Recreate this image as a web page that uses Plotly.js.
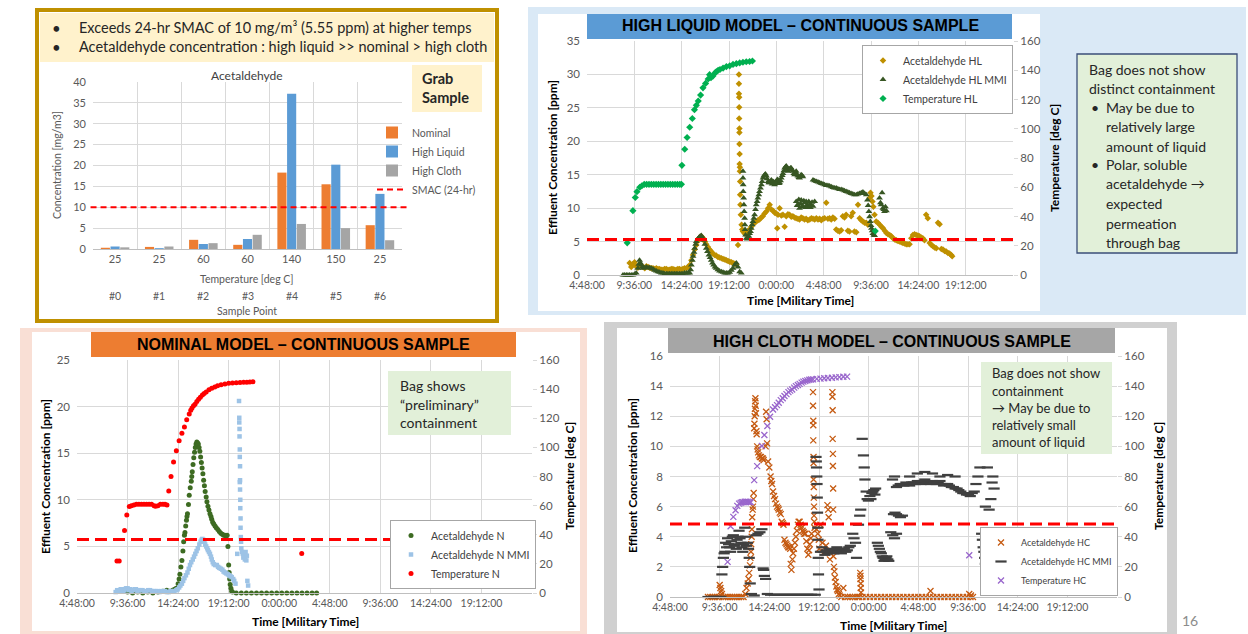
<!DOCTYPE html>
<html><head><meta charset="utf-8">
<script src="https://cdn.plot.ly/plotly-3.0.1.min.js"></script>
<style>html,body{margin:0;padding:0;background:#fff;}#chart{width:1248px;height:634px;}</style>
</head><body><div id="chart"></div>
<script>
// ---------- Grab sample bar chart ----------
const grabCategories = ['#0','#1','#2','#3','#4','#5','#6'];
const grabTemps = ['25','25','60','60','140','150','25'];
const grabNominal = [0.3,0.5,2.2,1.0,18.3,15.5,5.7];
const grabHighLiquid = [0.6,0.2,1.2,2.4,37.2,20.2,13.2];
const grabHighCloth = [0.4,0.6,1.4,3.4,6.0,5.0,2.1];
const smacGrab = 10;

// ---------- time axis (Excel day fractions) ----------
const timeTicks = [0.2,0.4,0.6,0.8,1.0,1.2,1.4,1.6,1.8,2.0];
const timeLabels = ['4:48:00','9:36:00','14:24:00','19:12:00','0:00:00','4:48:00','9:36:00','14:24:00','19:12:00',''];
const smacHL = 5.3, smacN = 5.75, smacHC = 4.85;

// ---------- High liquid continuous [time, value] ----------
const hlTemp = [[0.370,22],[0.394,44],[0.404,53],[0.411,57],[0.423,60],[0.432,61],[0.442,62],[0.452,62],[0.462,62],[0.472,62],[0.482,62],[0.492,62],[0.502,62],[0.512,62],[0.522,62],[0.532,62],[0.542,62],[0.552,62],[0.562,62],[0.572,62],[0.582,62],[0.592,62],[0.599,62],[0.601,75],[0.613,86],[0.623,94],[0.634,101],[0.645,107],[0.654,113],[0.662,116],[0.670,119],[0.680,123],[0.690,128],[0.701,131],[0.712,134],[0.718,137],[0.724,135],[0.732,136],[0.740,138],[0.746,139],[0.754,140],[0.762,140.5],[0.775,141.5],[0.789,142.5],[0.803,143],[0.817,144],[0.831,144.5],[0.845,145],[0.859,145.5],[0.873,145.8],[0.887,146],[0.899,146.3],[1.418,30]];
const hlAcet = [[0.380,1.8],[0.387,1.2],[0.394,1.6],[0.401,1.9],[0.408,1.3],[0.415,1.1],[0.422,1.5],[0.430,1.3],[0.437,1.2],[0.444,1.0],[0.451,1.3],[0.458,1.2],[0.465,1.1],[0.472,1.0],[0.479,1.0],[0.486,0.9],[0.493,1.0],[0.500,0.9],[0.507,0.9],[0.514,0.8],[0.521,0.8],[0.528,0.9],[0.535,0.9],[0.542,0.8],[0.549,0.8],[0.556,0.9],[0.563,0.9],[0.570,0.8],[0.577,0.8],[0.584,0.9],[0.591,0.9],[0.598,0.8],[0.605,0.9],[0.612,1.0],[0.620,1.0],[0.627,1.2],[0.634,1.5],[0.641,2.2],[0.648,3.0],[0.655,3.8],[0.662,4.5],[0.668,5.1],[0.673,5.5],[0.678,5.7],[0.683,5.8],[0.688,5.6],[0.693,5.4],[0.698,5.0],[0.704,4.6],[0.711,4.2],[0.718,3.8],[0.725,3.5],[0.732,3.2],[0.739,3.0],[0.746,2.9],[0.753,2.7],[0.760,2.6],[0.768,2.5],[0.775,2.4],[0.782,2.3],[0.789,2.2],[0.796,2.1],[0.803,2.0],[0.810,1.9],[0.817,1.8],[0.824,1.7],[0.831,1.6],[0.838,4.5],
[0.842,30.0],[0.842,28.6],[0.842,27.1],[0.843,26.6],[0.843,25.1],[0.843,23.4],[0.844,21.9],[0.844,21.3],[0.844,19.6],[0.845,18.1],[0.845,16.6],[0.846,16.1],[0.846,15.5],[0.847,14.0],[0.847,12.0],[0.848,10.5],[0.850,9.0],[0.853,7.5],[0.856,6.8],[0.859,6.5],
[0.866,6.2],[0.873,6.3],[0.880,6.6],[0.887,6.8],[0.894,7.2],[0.901,7.5],[0.908,7.8],[0.915,8.0],[0.922,8.2],[0.929,8.3],[0.936,8.6],[0.943,8.8],[0.950,9.2],[0.958,9.5],[0.965,10.0],[0.972,10.5],[0.979,9.8],[0.986,9.6],[0.993,9.3],[1.000,9.2],[1.004,7.0],[1.007,9.0],[1.014,10.0],[1.021,8.9],[1.028,9.0],[1.035,7.2],[1.042,8.8],[1.049,9.1],[1.056,9.0],[1.063,8.7],[1.070,8.8],[1.077,8.6],[1.084,8.5],[1.091,8.4],[1.098,8.3],[1.105,8.6],[1.112,8.5],[1.119,8.3],[1.126,8.4],[1.133,8.2],[1.141,8.3],[1.148,8.5],[1.155,8.4],[1.162,8.3],[1.169,8.5],[1.176,8.3],[1.183,8.4],[1.190,8.2],[1.197,8.4],[1.204,8.5],[1.211,10.8],[1.218,8.4],[1.225,8.5],[1.232,8.3],[1.239,8.6],[1.246,8.4],[1.253,6.8],[1.260,6.6],[1.267,6.5],[1.274,6.7],[1.281,8.8],[1.288,8.6],[1.295,9.0],[1.302,6.6],[1.309,6.5],[1.316,8.8],[1.323,9.3],[1.330,6.5],[1.338,6.4],[1.345,10.5],[1.352,8.5],[1.359,8.2],[1.366,8.0],[1.373,7.8],[1.380,7.8],[1.387,7.5],[1.394,11.5],[1.398,12.3],[1.402,11.8],[1.406,11.0],[1.410,10.2],[1.415,9.0],[1.422,8.0],[1.429,7.8],[1.437,7.5],[1.444,7.2],[1.451,7.0],[1.458,6.6],[1.465,6.3],[1.472,6.1],[1.479,6.0],[1.486,5.8],[1.493,5.5],[1.500,5.3],[1.507,5.2],[1.514,5.1],[1.521,5.0],[1.528,4.9],[1.535,4.8],[1.542,4.7],[1.549,4.6],[1.556,4.6],[1.563,4.6],[1.570,5.5],[1.577,6.0],[1.584,6.1],[1.591,6.0],[1.598,5.9],[1.605,5.8],[1.612,5.6],[1.619,5.5],[1.626,5.2],[1.633,9.0],[1.640,8.5],[1.648,4.8],[1.655,4.5],[1.662,4.3],[1.669,4.1],[1.676,4.0],[1.683,7.8],[1.690,7.6],[1.697,3.9],[1.704,3.8],[1.711,3.6],[1.718,3.5],[1.725,3.3],[1.732,3.2],[1.739,3.0],[1.743,2.8]];
const hlAcetMMI = [[0.352,0],[0.359,0],[0.366,0],[0.373,0],[0.380,0],[0.387,0],[0.394,0],[0.401,0.1],[0.408,0.3],[0.415,1.0],[0.419,1.6],[0.422,2.2],[0.426,1.8],[0.430,1.5],[0.434,1.2],[0.437,1.0],[0.444,1.1],[0.451,1.2],[0.458,1.1],[0.465,1.1],[0.472,1.0],[0.479,0.9],[0.486,0.7],[0.493,0.6],[0.500,0.5],[0.507,0.4],[0.514,0.3],[0.521,0.3],[0.528,0.2],[0.535,0.2],[0.542,0.2],[0.549,0.2],[0.556,0.2],[0.563,0.2],[0.570,0.2],[0.577,0.2],[0.584,0.2],[0.591,0.2],[0.598,0.2],[0.605,0.2],[0.612,0.3],[0.620,0.3],[0.627,0.3],[0.634,0.3],[0.638,0.8],[0.641,1.5],[0.645,2.2],[0.648,2.8],[0.652,3.4],[0.655,4.0],[0.659,4.6],[0.662,5.0],[0.668,5.4],[0.673,5.6],[0.678,5.8],[0.683,5.9],[0.688,5.6],[0.693,5.2],[0.698,4.6],[0.704,4.0],[0.709,3.5],[0.715,3.0],[0.720,2.6],[0.725,2.2],[0.730,1.8],[0.735,1.5],[0.741,1.2],[0.746,1.0],[0.753,0.8],[0.760,0.6],[0.768,0.5],[0.775,0.4],[0.782,0.3],[0.789,0.3],[0.796,0.3],[0.803,0.4],[0.810,0.7],[0.817,1.0],[0.824,1.5],[0.831,1.8],[0.838,1.2],[0.845,0.5],[0.852,0.3],
[0.859,15.5],[0.859,14.5],[0.860,13.5],[0.860,12.5],[0.862,11.5],[0.863,10.5],[0.864,9.5],[0.866,8.5],[0.867,7.5],[0.868,6.8],[0.870,6.0],[0.873,5.5],[0.877,5.4],[0.880,5.6],[0.884,5.8],[0.887,6.2],[0.891,6.5],[0.894,7.0],[0.898,7.5],[0.901,8.0],[0.905,8.5],[0.908,9.0],[0.912,9.8],[0.915,10.5],[0.919,11.0],[0.922,11.5],[0.926,12.0],[0.929,12.5],[0.933,13.0],[0.937,13.5],[0.940,14.0],[0.944,14.5],[0.947,14.8],[0.951,15.0],[0.954,15.1],[0.958,14.8],[0.961,14.4],[0.965,14.0],[0.968,13.8],[0.972,13.8],[0.975,14.0],[0.979,14.2],[0.982,13.6],[0.986,14.0],[0.989,13.9],[0.993,13.5],[0.996,13.8],[1.000,14.0],[1.004,14.3],[1.007,14.2],[1.011,13.7],[1.014,13.8],[1.018,14.1],[1.021,14.5],[1.025,14.9],[1.028,15.2],[1.032,15.6],[1.035,16.0],[1.039,16.2],[1.042,16.3],[1.046,15.8],[1.049,15.5],[1.053,15.9],[1.056,15.8],[1.060,16.0],[1.063,16.0],[1.067,15.7],[1.070,15.5],[1.074,15.2],[1.077,15.0],[1.081,15.3],[1.084,15.5],[1.088,15.0],[1.091,14.8],[1.095,14.6],[1.098,14.5],[1.102,14.8],[1.105,15.0],[1.109,14.9],[1.112,14.7],
[1.084,11.0],[1.088,10.4],[1.091,10.5],[1.095,11.3],[1.098,10.0],[1.102,10.7],[1.105,11.2],[1.109,10.2],[1.112,10.3],[1.116,11.1],[1.119,10.8],[1.123,10.1],[1.126,11.0],[1.130,10.5],[1.133,10.2],[1.137,11.0],[1.141,10.6],[1.144,10.1],[1.148,10.4],[1.151,10.9],[1.155,10.3],[1.162,11.0],
[1.155,14.2],[1.162,14.1],[1.169,14.0],[1.176,13.9],[1.183,13.8],[1.190,13.7],[1.197,13.6],[1.204,13.5],[1.211,13.4],[1.218,13.4],[1.225,13.3],[1.232,13.2],[1.239,13.1],[1.246,13.0],[1.253,13.0],[1.260,12.9],[1.267,12.8],[1.274,12.8],[1.281,12.7],[1.288,12.6],[1.295,12.5],[1.302,12.4],[1.309,12.3],[1.316,12.2],[1.323,12.1],[1.330,12.0],[1.338,12.0],[1.345,12.1],[1.352,12.2],[1.359,12.3],[1.366,12.4],[1.373,12.2],[1.380,12.0],[1.385,11.2],[1.388,10.4],[1.391,9.5],[1.394,8.7],[1.397,8.0],[1.400,7.4],[1.402,7.0],[1.405,6.6],[1.408,6.2],[1.412,6.0],[1.415,5.9],[1.436,11.5],[1.440,10.8],[1.443,10.5],[1.447,12.3],[1.450,10.0],[1.454,9.8],[1.457,9.5],[1.461,10.2],[1.465,9.6]];

// ---------- Nominal continuous [time, value] ----------
const nTemp = [[0.358,22],[0.367,22],[0.388,43],[0.397,53.5],[0.407,59.4],[0.415,60],[0.425,60.5],[0.435,61],[0.445,61],[0.455,61],[0.465,61],[0.475,61],[0.485,61],[0.495,61],[0.505,60],[0.511,59.5],[0.520,60],[0.530,61],[0.540,61],[0.548,61],[0.556,60.5],[0.563,70],[0.572,80],[0.582,90],[0.593,97.6],[0.604,104.5],[0.615,109.7],[0.625,114],[0.634,119],[0.644,123],[0.650,125.5],[0.655,127],[0.661,128.5],[0.667,129.6],[0.674,131.5],[0.681,133],[0.688,134.5],[0.696,136],[0.703,137],[0.711,138],[0.722,139.5],[0.733,140.6],[0.745,141.5],[0.756,142.4],[0.770,143],[0.785,143.5],[0.800,144],[0.815,144.2],[0.830,144.4],[0.845,144.6],[0.859,144.7],[0.872,144.8],[0.884,144.9],[0.896,145],[1.089,27.2]];
const nAcet = [[0.40,0.1],[0.42,0],[0.44,0.1],[0.46,0],[0.48,0.1],[0.50,0],[0.52,0.1],[0.54,0.2],[0.555,0.3],[0.565,0.2],[0.578,0.3],[0.586,0.4],[0.593,0.5],[0.600,1.0],[0.604,1.5],[0.607,2.0],[0.611,2.8],[0.615,3.5],[0.619,4.5],[0.622,5.5],[0.625,6.2],[0.627,6.5],[0.630,7.2],[0.633,7.8],[0.635,8.2],[0.637,8.5],[0.641,9.5],[0.644,10.5],[0.648,11.3],[0.652,12.0],[0.654,12.5],[0.656,13.0],[0.659,13.8],[0.662,14.5],[0.665,15.1],[0.668,15.6],[0.671,16.0],[0.674,16.2],[0.677,16.1],[0.680,16.0],[0.683,15.6],[0.686,15.2],[0.689,14.6],[0.692,14.0],[0.695,13.4],[0.698,12.8],[0.701,12.1],[0.704,11.5],[0.707,10.9],[0.711,10.3],[0.714,9.8],[0.718,9.3],[0.722,8.9],[0.726,8.5],[0.730,8.2],[0.733,7.9],[0.737,7.6],[0.741,7.4],[0.746,7.2],[0.751,7.0],[0.757,6.8],[0.763,6.6],[0.769,6.4],[0.775,6.3],[0.780,6.2],[0.785,6.2],[0.790,6.1],[0.794,6.2],[0.797,5.0],[0.800,3.0],[0.802,2.2],[0.804,1.5],[0.806,0.9],[0.809,0.5],[0.812,0.2],[0.815,0.1],[0.83,0],[0.85,0],[0.87,0],[0.89,0],[0.91,0],[0.93,0],[0.95,0],[0.97,0],[0.99,0],[1.01,0],[1.03,0],[1.05,0],[1.07,0],[1.09,0],[1.11,0],[1.13,0],[1.148,0]];
const nAcetMMI = [[0.353,0.1],[0.359,0.3],[0.367,0.2],[0.373,0.4],[0.378,0.4],[0.383,0.2],[0.388,0.3],[0.394,0.5],[0.400,0.5],[0.405,0.3],[0.410,0.4],[0.416,0.2],[0.422,0.3],[0.428,0.4],[0.433,0.4],[0.439,0.2],[0.444,0.3],[0.452,0.3],[0.459,0.3],[0.467,0.2],[0.474,0.2],[0.482,0.3],[0.489,0.3],[0.496,0.2],[0.504,0.2],[0.511,0.2],[0.519,0.2],[0.526,0.1],[0.533,0.2],[0.541,0.2],[0.548,0.2],[0.556,0.1],[0.563,0.1],[0.570,0.2],[0.578,0.2],[0.585,0.2],[0.593,0.3],[0.598,0.4],[0.604,0.6],[0.609,0.8],[0.615,1.0],[0.620,1.3],[0.625,1.6],[0.631,1.9],[0.637,2.2],[0.642,2.6],[0.647,3.0],[0.652,3.3],[0.658,3.6],[0.663,3.9],[0.668,4.2],[0.673,4.5],[0.678,4.8],[0.684,5.2],[0.689,5.5],[0.693,5.7],[0.696,5.8],[0.700,5.7],[0.704,5.5],[0.707,5.2],[0.711,5.0],[0.715,4.8],[0.718,4.6],[0.722,4.4],[0.726,4.2],[0.730,3.9],[0.733,3.6],[0.737,3.3],[0.741,3.1],[0.747,3.0],[0.753,3.0],[0.758,2.8],[0.763,2.7],[0.769,2.6],[0.775,2.5],[0.780,2.3],[0.785,2.2],[0.791,2.1],[0.797,2.0],[0.802,1.9],[0.807,1.8],[0.812,1.7],[0.818,1.5],[0.822,1.3],[0.827,1.0],[0.834,4.2],
[0.841,20.6],[0.842,18.8],[0.842,18.3],[0.843,17.6],[0.843,16.8],[0.844,15.4],[0.844,14.6],[0.845,13.6],[0.845,12.1],[0.844,11.9],[0.845,11.1],[0.846,10.0],[0.846,9.1],[0.847,8.0],[0.847,7.0],[0.848,6.0],[0.849,5.5],[0.850,4.8],[0.853,4.4],[0.856,4.2],[0.858,3.8],[0.861,4.0],[0.864,3.6],[0.867,4.4],[0.870,3.5],[0.872,4.0],[0.874,1.3],[0.877,0.8]];

// ---------- High cloth continuous [time, value] ----------
const hcTemp = [[0.432,23.3],[0.444,47],[0.455,53.2],[0.464,57.6],[0.471,60.5],[0.478,62],[0.484,62.5],[0.489,62.9],[0.495,63],[0.501,63.2],[0.507,63.2],[0.513,63.2],[0.519,63],[0.525,62.9],[0.539,77.6],[0.551,86.9],[0.570,100.2],[0.580,107.5],[0.592,113.5],[0.603,119.7],[0.615,124.5],[0.623,126],[0.631,127.4],[0.638,129],[0.646,130.7],[0.654,132],[0.661,133.5],[0.669,134.7],[0.677,136],[0.684,137],[0.692,137.8],[0.700,139],[0.707,140],[0.715,140.7],[0.722,141.5],[0.730,142.3],[0.737,143],[0.745,143.4],[0.753,143.8],[0.761,144.2],[0.768,144.4],[0.776,144.5],[0.791,144.8],[0.806,145],[0.821,145.2],[0.836,145.4],[0.852,145.6],[0.867,145.8],[0.882,146],[0.898,146.2],[0.913,146.3],[1.405,27.7]];
const hcAcet = [[0.353,0],[0.362,0],[0.371,0],[0.380,0],[0.389,0],[0.398,0],[0.400,0.8],[0.403,0.6],[0.406,0.4],[0.409,0.2],[0.415,0],[0.424,0],[0.433,0],[0.442,0],[0.451,0],[0.460,0],[0.469,0],[0.478,0],[0.487,0],[0.496,0],[0.503,0.2],[0.508,0.6],[0.513,0.9],[0.516,1.2],[0.519,1.6],[0.522,2.1],[0.524,2.6],[0.526,3.0],[0.527,3.5],[0.529,4.0],[0.530,4.5],[0.531,5.3],[0.533,5.8],[0.534,6.0],[0.536,6.5],[0.537,6.9],
[0.539,11.2],[0.540,11.5],[0.541,12.0],[0.542,12.5],[0.543,13.0],[0.544,13.2],[0.545,12.7],[0.546,12.2],[0.548,11.0],[0.549,10.8],[0.551,10.0],[0.553,9.8],[0.555,9.6],[0.558,9.4],[0.562,9.3],[0.566,9.3],[0.570,9.2],[0.574,9.2],[0.577,9.1],[0.585,10.0],[0.587,12.3],[0.589,11.8],[0.591,10.2],[0.595,9.0],[0.600,8.6],[0.605,8.0],[0.608,7.7],[0.611,7.5],[0.615,7.0],[0.619,6.7],[0.623,6.5],[0.627,6.2],[0.631,6.0],[0.635,5.9],[0.638,5.8],[0.642,5.6],[0.646,5.5],[0.650,5.0],[0.654,4.9],[0.657,4.8],[0.661,3.8],[0.665,3.6],[0.669,3.5],[0.673,3.4],[0.676,3.3],[0.680,3.3],[0.684,3.2],[0.686,2.2],[0.689,1.8],[0.693,2.5],[0.696,2.9],[0.699,3.2],[0.703,3.6],[0.707,4.0],[0.711,4.4],[0.715,4.8],[0.718,5.0],[0.722,5.0],[0.726,4.8],[0.730,4.6],[0.734,4.4],[0.738,4.3],[0.741,4.2],[0.745,4.2],[0.749,3.7],[0.753,3.2],[0.757,2.8],[0.760,3.1],[0.763,3.5],[0.767,3.9],[0.770,4.2],
[0.776,13.6],[0.776,12.7],[0.777,11.7],[0.777,11.4],[0.777,10.4],[0.778,9.3],[0.778,8.9],[0.778,7.8],[0.779,7.3],[0.779,6.6],[0.780,6.0],[0.780,5.4],[0.781,5.0],[0.782,4.6],[0.790,4.5],[0.795,4.2],[0.799,3.8],[0.801,3.2],[0.806,4.8],[0.814,3.6],[0.822,3.0],[0.828,3.4],[0.834,6.1],[0.837,5.8],[0.839,5.3],[0.842,3.0],[0.844,2.5],
[0.854,13.6],[0.854,13.3],[0.855,12.4],[0.855,10.5],[0.856,9.5],[0.856,8.7],[0.857,7.2],[0.857,5.8],[0.858,2.7],[0.860,2.0],[0.862,1.7],[0.864,1.3],[0.867,1.0],[0.870,0.7],[0.873,0.5],[0.876,0.4],[0.880,0.2],[0.883,0.1],[0.890,0],[0.898,0.6],[0.905,0],[0.915,0],[0.925,0],[0.935,0],[0.945,0],[0.955,0],[0.962,0],
[0.966,1.6],[0.967,1.4],[0.967,1.2],[0.968,0.9],[0.968,0.6],[0.969,0.3],[0.975,0],[0.990,0],[1.005,0],[1.020,0],[1.035,0],[1.050,0],[1.065,0],[1.080,0],[1.095,0],[1.110,0],[1.125,0],[1.140,0],[1.155,0],[1.170,0],[1.185,0],[1.200,0],[1.215,0],[1.230,0],[1.245,0],[1.249,0.4],[1.260,0],[1.275,0],[1.290,0],[1.305,0],[1.320,0],[1.335,0],[1.350,0],[1.365,0],[1.380,0],[1.395,0],[1.405,0.2],[1.410,0],[1.412,0.1],[1.420,0]];
const hcAcetMMI = [[0.353,0],[0.362,0],[0.371,0],[0.380,0],[0.389,0],[0.398,0],[0.405,0],[0.409,1.5],[0.412,2.0],[0.415,2.6],[0.418,2.9],[0.421,3.0],[0.424,3.6],[0.428,3.3],[0.432,3.9],[0.436,3.5],[0.440,3.3],[0.444,3.0],[0.447,3.7],[0.451,4.0],[0.455,4.1],[0.459,3.4],[0.463,3.5],[0.467,3.2],[0.470,3.8],[0.474,4.0],[0.478,4.4],[0.482,3.9],[0.486,3.6],[0.490,3.3],[0.493,3.0],[0.497,3.5],[0.501,4.6],[0.505,4.0],[0.508,3.4],[0.512,3.6],[0.516,3.2],[0.519,2.6],[0.521,2.0],[0.523,0.9],[0.528,0.2],[0.539,0.1],[0.547,4.1],[0.554,4.2],[0.562,4.3],[0.570,4.5],[0.575,1.9],[0.577,1.8],[0.580,1.4],[0.585,1.2],[0.592,0.2],[0.605,0.15],[0.620,0.15],[0.635,0.15],[0.650,0.15],[0.665,0.15],[0.680,0.15],[0.695,0.15],[0.710,0.15],[0.725,0.15],[0.740,0.15],[0.755,0.15],[0.770,0.15],[0.785,0.15],[0.800,0.5],
[0.788,9.3],[0.789,9.0],[0.790,8.6],[0.791,8.0],[0.792,7.5],[0.793,6.6],[0.794,5.6],[0.795,4.6],[0.796,3.8],[0.797,2.6],[0.798,1.5],
[0.806,3.0],[0.812,3.3],[0.818,3.0],[0.824,2.8],[0.830,3.1],[0.836,2.9],[0.842,3.2],[0.848,3.0],[0.854,3.1],[0.860,2.9],[0.866,3.1],[0.872,3.3],[0.878,3.0],[0.884,3.2],[0.890,2.9],[0.896,3.1],[0.902,3.2],[0.908,3.0],[0.914,3.1],[0.920,3.3],[0.926,3.4],
[0.936,4.2],[0.941,3.9],[0.947,3.6],[0.951,2.6],[0.959,4.8],[0.964,5.4],[0.968,5.8],[0.974,10.5],[0.979,9.4],[0.982,8.6],[0.985,7.8],[0.990,7.0],[0.994,6.5],[0.999,6.4],[1.005,6.7],[1.009,6.5],[1.013,6.9],[1.017,7.0],[1.021,7.1],[1.025,6.8],[1.028,7.2],
[1.035,3.6],[1.039,3.4],[1.043,3.2],[1.047,3.0],[1.051,2.9],[1.055,2.7],[1.058,2.6],[1.062,2.4],[1.066,2.5],[1.070,2.6],[1.073,2.7],[1.077,2.5],[1.081,2.4],
[1.089,4.3],[1.097,4.1],[1.104,3.9],[1.112,4.2],[1.100,5.5],[1.106,5.6],[1.112,5.5],[1.120,5.4],[1.128,5.3],[1.136,5.4],
[1.096,7.8],[1.104,8.0],[1.112,7.3],[1.119,7.4],[1.127,7.5],[1.134,7.5],[1.142,7.4],[1.150,7.6],[1.157,7.5],[1.165,7.4],[1.173,7.6],[1.180,7.6],[1.188,7.5],[1.196,7.7],[1.203,7.6],[1.211,7.5],[1.219,7.7],[1.226,7.8],[1.234,7.6],[1.241,7.6],[1.249,7.5],[1.257,7.7],[1.264,7.6],[1.272,7.5],[1.280,7.6],[1.287,7.7],[1.295,7.5],[1.302,7.4],[1.310,7.5],[1.318,7.5],[1.325,7.4],[1.333,7.3],[1.341,7.3],[1.348,7.2],[1.356,7.2],[1.363,7.1],[1.371,7.0],[1.379,6.9],[1.386,6.9],[1.394,6.8],[1.402,6.8],[1.409,6.7],[1.417,6.9],[1.425,7.0],
[1.165,8.0],[1.196,8.2],[1.226,8.3],[1.257,8.2],[1.287,8.0],[1.318,8.1],[1.348,8.0],
[1.432,7.5],[1.440,8.0],[1.448,8.6],[1.478,8.6],[1.470,6.0],[1.485,5.8],[1.492,6.5],[1.500,8.0],[1.505,7.2],[1.497,7.6],
[1.455,4.2],[1.458,3.8],[1.461,3.3],[1.464,3.0],[1.467,2.6],[1.470,2.2],[1.473,2.0],[1.476,1.7]];

// ---------- layout helpers (pixel -> paper) ----------
const W = 1248, H = 634;
const X = v => v / W;
const Y = v => 1 - v / H;
const xs = pts => pts.map(p => p[0]);
const ys = pts => pts.map(p => p[1]);
const BODY = 'Lato, "Open Sans", sans-serif';
const HEAD = '"Liberation Sans", Arial, sans-serif';

function rect(x0, y0, x1, y1, fill, lc, lw, layer) {
  return {type:'rect', xref:'paper', yref:'paper', x0:X(x0), x1:X(x1), y0:Y(y1), y1:Y(y0),
    fillcolor:fill, line:{color:lc || 'rgba(0,0,0,0)', width:lw || 0}, layer:layer || 'below'};
}
function txt(x, y, text, size, extra) {
  return Object.assign({xref:'paper', yref:'paper', x:X(x), y:Y(y), text:text, showarrow:false,
    xanchor:'left', yanchor:'middle', font:{family:BODY, size:size, color:'#262626'}}, extra || {});
}
function smacLine(xa, ya, val, w, dash, x0, x1) {
  return {type:'line', xref:xa + ' domain', yref:ya, x0:x0, x1:x1, y0:val, y1:val,
    line:{color:'#FF0000', width:w, dash:dash}, layer:'above'};
}

const tickFont = {family:BODY, size:11, color:'#595959'};
const gridC = '#D9D9D9';

function timeAxis(domain, anchor) {
  return {domain:domain, anchor:anchor, range:[0.2, 2.0], tickvals:timeTicks, ticktext:timeLabels,
    showgrid:true, gridcolor:gridC, zeroline:false, showline:true, linecolor:'#BFBFBF', ticks:'',
    tickfont:{family:BODY, size:10.5, color:'#595959'}, fixedrange:true};
}
function leftAxis(domain, anchor, max, dt) {
  return {domain:domain, anchor:anchor, range:[0, max], dtick:dt, showgrid:true, gridcolor:gridC,
    zeroline:false, showline:false, ticks:'', ticklabelstandoff:6, tickfont:{family:BODY, size:11.5, color:'#595959'}, fixedrange:true};
}
function rightAxis(over, anchor) {
  return {overlaying:over, anchor:anchor, side:'right', range:[0, 160], dtick:20, showgrid:false, zeroline:false,
    showline:false, ticks:'outside', ticklen:4, tickcolor:'#D9D9D9', tickfont:{family:BODY, size:11.5, color:'#595959'}, fixedrange:true};
}
function sc(pts, name, xa, ya, lg, marker) {
  return {type:'scatter', mode:'markers', name:name, x:xs(pts), y:ys(pts), xaxis:xa, yaxis:ya,
    legend:lg, marker:marker, cliponaxis:false, hoverinfo:'skip'};
}

const traces = [
  {type:'bar', name:'Nominal', x:grabCategories, y:grabNominal, marker:{color:'#ED7D31'}, xaxis:'x', yaxis:'y', legend:'legend'},
  {type:'bar', name:'High Liquid', x:grabCategories, y:grabHighLiquid, marker:{color:'#5B9BD5'}, xaxis:'x', yaxis:'y', legend:'legend'},
  {type:'bar', name:'High Cloth', x:grabCategories, y:grabHighCloth, marker:{color:'#A5A5A5'}, xaxis:'x', yaxis:'y', legend:'legend'},
  {type:'scatter', mode:'lines', name:'SMAC (24-hr)', x:[null], y:[null], xaxis:'x', yaxis:'y', legend:'legend',
    line:{color:'#FF0000', width:2, dash:'6px,4px'}},

  sc(hlAcet, 'Acetaldehyde HL', 'x2', 'y2', 'legend2', {symbol:'diamond', size:5, color:'#BF9000'}),
  sc(hlAcetMMI, 'Acetaldehyde HL MMI', 'x2', 'y2', 'legend2', {symbol:'triangle-up', size:6, color:'#375623'}),
  sc(hlTemp, 'Temperature HL', 'x2', 'y3', 'legend2', {symbol:'diamond', size:5.5, color:'#00B050'}),

  sc(nAcet, 'Acetaldehyde N', 'x3', 'y4', 'legend3', {symbol:'circle', size:5, color:'#3D6B22'}),
  sc(nAcetMMI, 'Acetaldehyde N MMI', 'x3', 'y4', 'legend3', {symbol:'square', size:4.5, color:'#9DC3E6'}),
  sc(nTemp, 'Temperature N', 'x3', 'y5', 'legend3', {symbol:'circle', size:5, color:'#FF0000'}),

  sc(hcAcet, 'Acetaldehyde HC', 'x4', 'y6', 'legend4', {symbol:'x-thin', size:6, color:'#C55A11', line:{width:1.3, color:'#C55A11'}}),
  sc(hcAcetMMI, 'Acetaldehyde HC MMI', 'x4', 'y6', 'legend4', {symbol:'line-ew', size:8, color:'#404040', line:{width:2.2, color:'#404040'}}),
  sc(hcTemp, 'Temperature HC', 'x4', 'y7', 'legend4', {symbol:'x-thin', size:6, color:'#9966CC', line:{width:1.3, color:'#9966CC'}})
];

const shapes = [
  // top-left panel
  rect(37, 10, 497, 321, '#FFFFFF', '#BF9000', 4),
  rect(40, 13, 494, 62, '#FFF2CC'),
  rect(412, 65, 482, 112, '#FFF2CC'),
  // top-right panel
  rect(528, 7, 1246, 315, '#DAE9F6'),
  rect(538, 14, 1040, 311, '#FFFFFF'),
  rect(587, 14, 1012, 39, '#5B9BD5'),
  rect(1077, 54, 1237, 253, '#E2F0D9', '#3B4E78', 1.3),
  // bottom-left panel
  rect(20, 328, 587, 634, '#F9DFD5'),
  rect(32, 332, 580, 631, '#FFFFFF'),
  rect(91, 332, 516, 357, '#ED7D31'),
  rect(388, 371, 511, 435, '#E2F0D9', null, 0, 'above'),
  // bottom-right panel
  rect(604, 322, 1177, 634, '#D0D0D0'),
  rect(617, 328, 1167, 632, '#FFFFFF'),
  rect(668, 328, 1115, 353, '#A6A6A6'),
  rect(981, 362, 1112, 454, '#E2F0D9', null, 0, 'above'),
  // SMAC reference lines
  smacLine('x', 'y', smacGrab, 2, '6px,4px', -0.008, 1.016),
  smacLine('x2', 'y2', smacHL, 3, '12px,6px', 0, 1),
  smacLine('x3', 'y4', smacN, 3, '12px,6px', 0, 1),
  smacLine('x4', 'y6', smacHC, 3, '12px,6px', 0, 1)
];

const axisTitle = {family:BODY, size:12, color:'#000000'};
const headFont = {family:HEAD, size:16, color:'#000'};
const annotations = [
  // top-left text
  txt(50, 28, '•', 15), txt(77, 28, 'Exceeds 24-hr SMAC of 10 mg/m³ (5.55 ppm) at higher temps', 14.5),
  txt(50, 47, '•', 15), txt(77, 47, 'Acetaldehyde concentration : high liquid >> nominal > high cloth', 14.5),
  txt(420, 88, '<b>Grab<br>Sample</b>', 14.5, {align:'left'}),
  txt(247, 75, 'Acetaldehyde', 12, {xanchor:'center', font:{family:BODY, size:12, color:'#404040'}}),
  txt(57, 165, 'Concentration [mg/m3]', 10.5, {xanchor:'center', textangle:-90, font:{family:BODY, size:10.5, color:'#595959'}}),
  txt(247, 279, 'Temperature [deg C]', 10.5, {xanchor:'center', font:{family:BODY, size:10.5, color:'#595959'}}),
  txt(247, 311, 'Sample Point', 10.5, {xanchor:'center', font:{family:BODY, size:10.5, color:'#595959'}}),
  // top-right chart
  txt(800, 26, '<b>HIGH LIQUID MODEL – CONTINUOUS SAMPLE</b>', 16, {xanchor:'center', font:headFont}),
  txt(552, 158, '<b>Effluent Concentration [ppm]</b>', 12, {xanchor:'center', textangle:-90, font:axisTitle}),
  txt(1054, 158, '<b>Temperature [deg C]</b>', 12, {xanchor:'center', textangle:-90, font:axisTitle}),
  txt(800, 301, '<b>Time [Military Time]</b>', 12.5, {xanchor:'center', font:axisTitle}),
  txt(1087, 69, 'Bag does not show', 14), txt(1087, 88, 'distinct containment', 14),
  txt(1089, 107, '•', 14), txt(1104, 107, 'May be due to', 14),
  txt(1104, 127, 'relatively large', 14), txt(1104, 146, 'amount of liquid', 14),
  txt(1089, 165, '•', 14), txt(1104, 165, 'Polar, soluble', 14),
  txt(1104, 184, 'acetaldehyde →', 14), txt(1104, 203, 'expected', 14),
  txt(1104, 223, 'permeation', 14), txt(1104, 242, 'through bag', 14),
  // bottom-left chart
  txt(303, 345, '<b>NOMINAL MODEL – CONTINUOUS SAMPLE</b>', 16, {xanchor:'center', font:headFont}),
  txt(45, 476, '<b>Effluent Concentration [ppm]</b>', 12, {xanchor:'center', textangle:-90, font:axisTitle}),
  txt(569, 476, '<b>Temperature [deg C]</b>', 12, {xanchor:'center', textangle:-90, font:axisTitle}),
  txt(305, 621, '<b>Time [Military Time]</b>', 12.5, {xanchor:'center', font:axisTitle}),
  txt(398, 385, 'Bag shows', 14), txt(398, 404, '“preliminary”', 14), txt(398, 422, 'containment', 14),
  // bottom-right chart
  txt(892, 341, '<b>HIGH CLOTH MODEL – CONTINUOUS SAMPLE</b>', 16, {xanchor:'center', font:headFont}),
  txt(632, 476, '<b>Effluent Concentration [ppm]</b>', 12, {xanchor:'center', textangle:-90, font:axisTitle}),
  txt(1158, 476, '<b>Temperature [deg C]</b>', 12, {xanchor:'center', textangle:-90, font:axisTitle}),
  txt(893, 625, '<b>Time [Military Time]</b>', 12.5, {xanchor:'center', font:axisTitle}),
  txt(990, 373, 'Bag does not show', 13), txt(990, 391, 'containment', 13),
  txt(990, 408, '→ May be due to', 13), txt(990, 425, 'relatively small', 13), txt(990, 442, 'amount of liquid', 13),
  // page number
  txt(1190, 620, '16', 14, {xanchor:'center', font:{family:BODY, size:14, color:'#8C8C8C'}})
];
// sample point labels under bar chart
grabCategories.forEach(c => annotations.push({xref:'x', yref:'paper', x:c, y:Y(296), text:c, showarrow:false,
  yanchor:'middle', font:{family:BODY, size:10.5, color:'#595959'}}));

const layout = {
  width:W, height:H, margin:{l:0, r:0, t:0, b:0}, paper_bgcolor:'#FFFFFF', plot_bgcolor:'rgba(0,0,0,0)',
  font:{family:BODY, size:11, color:'#595959'}, showlegend:true, hovermode:false,
  barmode:'group', bargap:0.34, bargroupgap:0.06,
  xaxis:{domain:[X(93), X(402)], anchor:'y', type:'category', tickvals:grabCategories, ticktext:grabTemps,
    tickson:'boundaries', showgrid:true, gridcolor:gridC, showline:true, linecolor:'#BFBFBF', ticks:'',
    tickfont:tickFont, fixedrange:true},
  yaxis:{domain:[Y(249), Y(82)], anchor:'x', range:[0, 40], dtick:5, showgrid:true, gridcolor:gridC, zeroline:false,
    ticks:'', ticklabelstandoff:6, tickfont:tickFont, fixedrange:true},
  xaxis2:timeAxis([X(587), X(1013)], 'y2'),
  yaxis2:leftAxis([Y(275), Y(41)], 'x2', 35, 5),
  yaxis3:rightAxis('y2', 'x2'),
  xaxis3:timeAxis([X(77), X(532)], 'y4'),
  yaxis4:leftAxis([Y(593), Y(360)], 'x3', 25, 5),
  yaxis5:rightAxis('y4', 'x3'),
  xaxis4:timeAxis([X(670), X(1117)], 'y6'),
  yaxis6:leftAxis([Y(597), Y(356)], 'x4', 16, 2),
  yaxis7:rightAxis('y6', 'x4'),
  legend:{x:X(372), y:Y(118), xanchor:'left', yanchor:'top', bgcolor:'rgba(0,0,0,0)', itemwidth:30,
    font:{family:BODY, size:10.5, color:'#595959'}, traceorder:'normal'},
  legend2:{x:X(862), y:Y(45), xanchor:'left', yanchor:'top', bgcolor:'#FFFFFF', bordercolor:'#A6A6A6', borderwidth:1,
    itemwidth:30, font:{family:BODY, size:10.5, color:'#404040'}},
  legend3:{x:X(390), y:Y(589), xanchor:'left', yanchor:'bottom', bgcolor:'#FFFFFF', bordercolor:'#A6A6A6', borderwidth:1,
    itemwidth:30, font:{family:BODY, size:10.5, color:'#404040'}},
  legend4:{x:X(980), y:Y(596), xanchor:'left', yanchor:'bottom', bgcolor:'#FFFFFF', bordercolor:'#A6A6A6', borderwidth:1,
    itemwidth:30, font:{family:BODY, size:9, color:'#404040'}},
  shapes:shapes, annotations:annotations
};

Plotly.newPlot('chart', traces, layout, {staticPlot:true, displayModeBar:false});
</script></body></html>
